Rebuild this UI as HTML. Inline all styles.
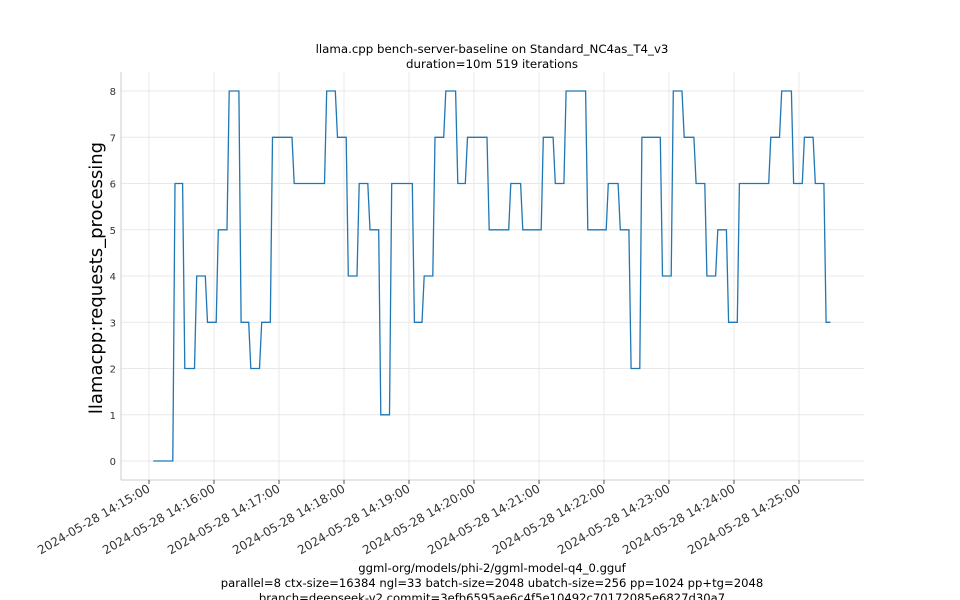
<!DOCTYPE html>
<html><head><meta charset="utf-8"><style>
html,body{margin:0;padding:0;background:#fff;}
svg{display:block;font-family:"DejaVu Sans","Liberation Sans",sans-serif;}
</style></head><body>
<svg id="chart" width="960" height="600" viewBox="0 0 960 600">
<text x="492" y="53" text-anchor="middle" font-size="11.8" fill="#000">llama.cpp bench-server-baseline on Standard_NC4as_T4_v3</text>
<text x="492" y="68" text-anchor="middle" font-size="11.8" fill="#000">duration=10m 519 iterations</text>
<g id="grid"></g>
<line x1="121" y1="72" x2="121" y2="480" stroke="#ccc"/>
<line x1="121" y1="480" x2="864" y2="480" stroke="#ccc"/>
<g id="yticks"></g>
<g id="xticks"></g>
<path id="line" fill="none" stroke="#1f77b4" stroke-width="1.3"/>
<text transform="translate(102,278) rotate(-90)" text-anchor="middle" font-size="18" fill="#000">llamacpp:requests_processing</text>
<text x="492" y="572" text-anchor="middle" font-size="11.6" fill="#000">ggml-org/models/phi-2/ggml-model-q4_0.gguf</text>
<text x="492" y="587" text-anchor="middle" font-size="11.6" fill="#000">parallel=8 ctx-size=16384 ngl=33 batch-size=2048 ubatch-size=256 pp=1024 pp+tg=2048</text>
<text x="492" y="602" text-anchor="middle" font-size="11.6" fill="#000">branch=deepseek-v2 commit=3efb6595ae6c4f5e10492c70172085e6827d30a7</text>
</svg>
<script>
const stepTimes = [4,24,33,44,54,64,74,85,94,104,114,134,164,174,184,194,204,214,224,245,254,264,274,285,294,314,334,345,364,375,385,405,424,435,445,455,474,484,494,505,515,525,535,545,574,584,595,605,615,625];
const stepValues = [0,6,2,4,3,5,8,3,2,3,7,6,8,7,4,6,5,1,6,3,4,7,8,6,7,5,6,5,7,6,8,5,6,5,2,7,4,8,7,6,4,5,3,6,7,8,6,7,6,3];
const endTime = 629;
const yTicks = [0,1,2,3,4,5,6,7,8];
const xTickSeconds = [0,60,120,180,240,300,360,420,480,540,600];
const xTickLabels = ["2024-05-28 14:15:00","2024-05-28 14:16:00","2024-05-28 14:17:00","2024-05-28 14:18:00","2024-05-28 14:19:00","2024-05-28 14:20:00","2024-05-28 14:21:00","2024-05-28 14:22:00","2024-05-28 14:23:00","2024-05-28 14:24:00","2024-05-28 14:25:00"];
const NS="http://www.w3.org/2000/svg";
function xs(t){return 149+t*65/60;}
function ys(v){return 461-v*46.25;}
const grid=document.getElementById('grid'),yt=document.getElementById('yticks'),xt=document.getElementById('xticks');
yTicks.forEach(v=>{
  const l=document.createElementNS(NS,'line');
  
  
  l.setAttribute('x1',121);l.setAttribute('x2',864);l.setAttribute('y1',ys(v));l.setAttribute('y2',ys(v));l.setAttribute('stroke','#e8e8e8');
  grid.appendChild(l);
  const t=document.createElementNS(NS,'text');
  
  
  t.setAttribute('x',116);t.setAttribute('y',ys(v)+4);t.setAttribute('text-anchor','end');t.setAttribute('font-size','10');t.setAttribute('fill','#333');
  t.textContent=v;yt.appendChild(t);
});
xTickSeconds.forEach((s,i)=>{
  const x=xs(s);
  const l=document.createElementNS(NS,'line');
  
  
  l.setAttribute('x1',x);l.setAttribute('x2',x);l.setAttribute('y1',72);l.setAttribute('y2',480);l.setAttribute('stroke','#e8e8e8');
  grid.appendChild(l);
  const tk=document.createElementNS(NS,'line');
  
  
  tk.setAttribute('x1',x);tk.setAttribute('x2',x);tk.setAttribute('y1',480);tk.setAttribute('y2',484);tk.setAttribute('stroke','#555');
  xt.appendChild(tk);
  const t=document.createElementNS(NS,'text');
  
  
  t.setAttribute('transform','translate('+(x+2)+',491) rotate(-30)');t.setAttribute('text-anchor','end');t.setAttribute('font-size','12');t.setAttribute('fill','#333');
  t.textContent=xTickLabels[i];xt.appendChild(t);
});
let d='';
stepTimes.forEach((t,i)=>{
  const end=i<stepTimes.length-1?stepTimes[i+1]-2:endTime;
  d+=(i?'L':'M')+xs(t).toFixed(1)+','+ys(stepValues[i]).toFixed(1)+'L'+xs(end).toFixed(1)+','+ys(stepValues[i]).toFixed(1);
});
document.getElementById('line').setAttribute('d',d);
</script>
</body></html>
